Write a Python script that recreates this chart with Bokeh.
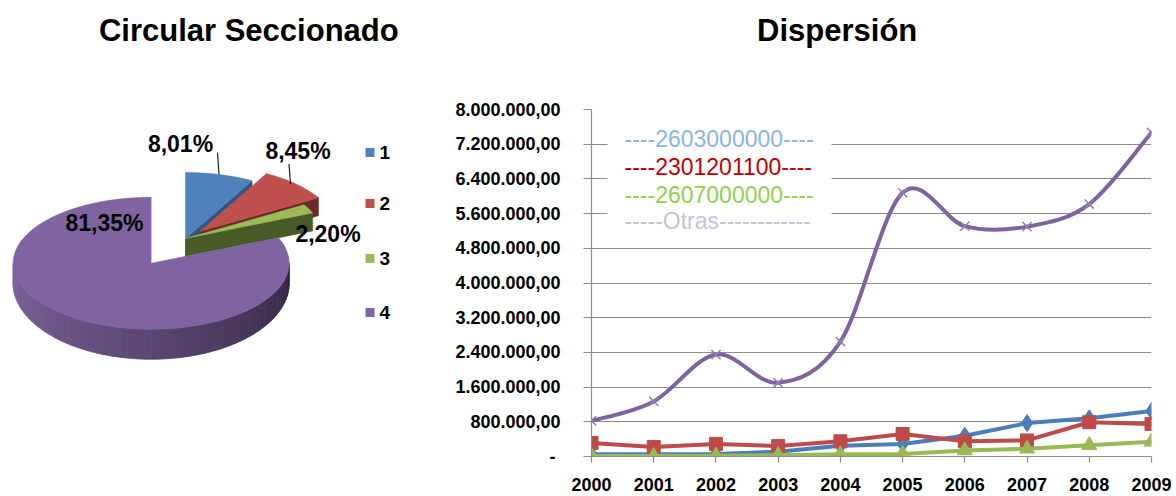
import numpy as np
from bokeh.plotting import figure
from bokeh.models import Range1d, FixedTicker
from bokeh.layouts import column, row
from bokeh.core.properties import value
from bokeh.embed import file_html
from bokeh.resources import INLINE

FONT = value("Liberation Sans")

# ---------------- data ----------------
pie_categories = ["1", "2", "3", "4"]
pie_percent = [8.01, 8.45, 2.20, 81.35]
pie_percent_text = ["8,01%", "8,45%", "2,20%", "81,35%"]
pie_colors = ["#4F81BD", "#C0504D", "#9BBB59", "#8064A2"]

years = [2000, 2001, 2002, 2003, 2004, 2005, 2006, 2007, 2008, 2009]
s_2603000000 = [50000, 50000, 60000, 110000, 250000, 290000, 480000, 770000, 880000, 1050000]
s_2301201100 = [310000, 220000, 290000, 240000, 350000, 520000, 350000, 370000, 790000, 750000]
s_2607000000 = [10000, 10000, 20000, 30000, 50000, 60000, 140000, 180000, 260000, 340000]
s_otras = [820000, 1270000, 2350000, 1700000, 2650000, 6080000, 5310000, 5300000, 5820000, 7470000]
series_names = ["----2603000000----", "----2301201100----", "----2607000000----", "-----Otras------------"]
series_name_colors = ["#8DB4E2", "#C00000", "#92D050", "#CCC0DA"]

y_ticks = [0, 800000, 1600000, 2400000, 3200000, 4000000, 4800000, 5600000, 6400000, 7200000, 8000000]
y_tick_labels = ["-\u00a0", "800.000,00", "1.600.000,00", "2.400.000,00", "3.200.000,00", "4.000.000,00",
                 "4.800.000,00", "5.600.000,00", "6.400.000,00", "7.200.000,00", "8.000.000,00"]
titles = ["Circular Seccionado", "Dispersión"]

# ---------------- titles ----------------
tf = figure(width=1176, height=60, x_range=Range1d(0, 1176), y_range=Range1d(60, 0),
            toolbar_location=None, output_backend="svg", min_border=0,
            x_axis_location=None, y_axis_location=None)
tf.grid.visible = False
tf.outline_line_color = None
tf.text(x=[248.3, 836.7], y=[29.5, 29.5], text=titles, text_align="center",
        text_baseline="middle", text_font=FONT, text_font_style="bold",
        text_font_size="31px", text_color="black")

# ---------------- pie (3D) ----------------
# frame shares its top/bottom with the line chart frame (page y 109..456)
pf = figure(width=420, height=436, x_range=Range1d(0, 420), y_range=Range1d(456, 109),
            toolbar_location=None, output_backend="svg",
            min_border_left=0, min_border_right=0, min_border_top=49, min_border_bottom=40,
            x_axis_location=None, y_axis_location=None)
pf.grid.visible = False
pf.outline_line_color = None

RX, RY = 138.0, 66.0
CX, CY = 185.0, 238.0
D_BACK = 18.0
explode = [0.0, 0.15, 0.0, 0.45]
fr = np.array(pie_percent) / np.sum(pie_percent)
ends = 90.0 - np.cumsum(fr) * 360.0
starts = np.concatenate([[90.0], ends[:-1]])
cents = []
for s, e, k in zip(starts, ends, explode):
    mid = np.radians((s + e) / 2)
    cents.append((CX + k * RX * np.cos(mid), CY - k * RY * np.sin(mid)))


def ell(c, deg):
    t = np.radians(deg)
    return c[0] + RX * np.cos(t), c[1] - RY * np.sin(t)


def top_poly(i):
    c = cents[i]
    a = np.linspace(starts[i], ends[i], max(8, int(abs(ends[i] - starts[i]) * 2)))
    xs, ys = ell(c, a)
    return [c[0]] + list(xs), [c[1]] + list(ys)


def face_poly(i, deg, depth):
    c = cents[i]
    ex, ey = ell(c, deg)
    return [c[0], ex, ex, c[0]], [c[1], ey, ey + depth, c[1] + depth]


# back faces
fx, fy = face_poly(0, ends[0], D_BACK)
pf.patch(fx, fy, fill_color="#34557E", line_color="#34557E", line_width=0.5)
fx, fy = face_poly(1, ends[1], D_BACK)
pf.patch(fx, fy, fill_color="#6A2A28", line_color="#6A2A28", line_width=0.5)
for i in (0, 1):
    tx, ty = top_poly(i)
    pf.patch(tx, ty, fill_color=pie_colors[i], line_color=pie_colors[i], line_width=0.5)
fx, fy = face_poly(2, ends[2], D_BACK)
pf.patch(fx, fy, fill_color="#485B26", line_color="#485B26", line_width=0.5)
tx, ty = top_poly(2)
pf.patch(tx, ty, fill_color=pie_colors[2], line_color=pie_colors[2], line_width=0.5)

# purple wall (front arc), shaded
c4 = cents[3]
N = 72
ang = np.linspace(-180.0, 0.0, N + 1)
left_c = np.array([124, 99, 154])
right_c = np.array([50, 37, 64])
wxs, wys, wcols = [], [], []
for j in range(N):
    a0, a1 = ang[j], ang[j + 1]
    x0, y0 = ell(c4, a0)
    x1, y1 = ell(c4, a1)
    d0 = 20 + 10 * max(0.0, -np.sin(np.radians(a0)))
    d1 = 20 + 10 * max(0.0, -np.sin(np.radians(a1)))
    t = ((a0 + a1) / 2 + 180.0) / 180.0
    col = left_c + (right_c - left_c) * (t ** 1.1)
    hexc = "#%02x%02x%02x" % tuple(int(round(v)) for v in col)
    wxs.append([x0, x1, x1, x0])
    wys.append([y0, y1, y1 + d1, y0 + d0])
    wcols.append(hexc)
pf.patches(wxs, wys, fill_color=wcols, line_color=wcols, line_width=0.8)
tx, ty = top_poly(3)
pf.patch(tx, ty, fill_color=pie_colors[3], line_color=pie_colors[3], line_width=0.5)

# leader lines and labels
pf.segment(x0=[217.0, 288.5], y0=[152.0, 163.5], x1=[218.5, 290.0], y1=[174.0, 183.5],
           line_color="#222222", line_width=1.2)
pf.text(x=[180, 297.5, 327.5, 104], y=[143, 150, 233.5, 222.5], text=pie_percent_text,
        text_align="center", text_baseline="middle", text_font=FONT, text_font_style="bold",
        text_font_size="23px", text_color="black")

# pie legend
leg_y = [152, 203, 258, 312]
pf.rect(x=[369.5] * 4, y=leg_y, width=9, height=9, fill_color=pie_colors, line_color=None)
pf.text(x=[379] * 4, y=leg_y, text=pie_categories, text_align="left", text_baseline="middle",
        text_font=FONT, text_font_style="bold", text_font_size="19px", text_color="black")

# ---------------- line chart ----------------
lf = figure(frame_width=560, frame_height=347, min_border_left=171, min_border_right=25,
            min_border_top=49, min_border_bottom=40,
            x_range=Range1d(2000, 2009), y_range=Range1d(0, 8000000),
            toolbar_location=None, output_backend="svg")
lf.outline_line_color = None
lf.xgrid.visible = False
lf.ygrid.ticker = FixedTicker(ticks=y_ticks)
lf.ygrid.grid_line_color = "#8C8C8C"
lf.ygrid.grid_line_width = 1.2

lf.yaxis.ticker = FixedTicker(ticks=y_ticks)
lf.yaxis.major_label_overrides = {t: l for t, l in zip(y_ticks, y_tick_labels)}
lf.yaxis.minor_tick_line_color = None
lf.yaxis.major_tick_out = 8
lf.yaxis.major_tick_in = 0
lf.yaxis.major_label_standoff = 23

lf.xaxis.ticker = FixedTicker(ticks=years)
lf.xaxis.minor_tick_line_color = None
lf.xaxis.major_tick_out = 6
lf.xaxis.major_tick_in = 0
lf.xaxis.major_label_standoff = 15
lf.xaxis.major_label_text_line_height = 1.0

for ax in (lf.xaxis[0], lf.yaxis[0]):
    ax.axis_line_color = "#8C8C8C"
    ax.axis_line_width = 1.2
    ax.major_tick_line_color = "#8C8C8C"
    ax.major_tick_line_width = 1.2
    ax.major_label_text_font = "Liberation Sans"
    ax.major_label_text_font_style = "bold"
    ax.major_label_text_font_size = "18px"
    ax.major_label_text_color = "black"


def px2x(px):
    return 2000 + (px - 591.0) * 9.0 / 560.0


def py2y(py):
    return (456.0 - py) * 8000000.0 / 347.0


# legend background + texts
lf.quad(left=[px2x(607)], right=[px2x(831)], top=[py2y(118)], bottom=[py2y(232)],
        fill_color="white", line_color=None)
lf.text(x=[px2x(624)] * 4, y=[py2y(v) for v in (138, 166, 194, 220)], text=series_names,
        text_color=series_name_colors, text_align="left", text_baseline="middle",
        text_font=FONT, text_font_size="23px")

# smooth "Otras" line (Catmull-Rom through the data points)
ox = np.array(years, dtype=float)
oy = np.array(s_otras, dtype=float)
Ex = np.concatenate([[ox[0]], ox, [ox[-1]]])
Ey = np.concatenate([[oy[0]], oy, [oy[-1]]])
cx0 = Ex[1:-2] + (Ex[2:-1] - Ex[:-3]) / 6.0
cy0 = Ey[1:-2] + (Ey[2:-1] - Ey[:-3]) / 6.0
cx1 = Ex[2:-1] - (Ex[3:] - Ex[1:-2]) / 6.0
cy1 = Ey[2:-1] - (Ey[3:] - Ey[1:-2]) / 6.0
lf.bezier(x0=ox[:-1], y0=oy[:-1], x1=ox[1:], y1=oy[1:], cx0=cx0, cy0=cy0, cx1=cx1, cy1=cy1,
          line_color="#7E62A1", line_width=4, line_cap="round")
lf.scatter(years, s_otras, marker="x", size=13, line_color="#9580B5", line_width=1.5)

lf.line(years, s_2603000000, line_color="#4A7EBB", line_width=4)
lf.scatter(years, s_2603000000, marker="diamond", size=17, fill_color="#4A7EBB", line_color="#4A7EBB")
lf.line(years, s_2301201100, line_color="#BE4B48", line_width=4)
lf.scatter(years, s_2301201100, marker="square", size=13, fill_color="#BE4B48", line_color="#BE4B48")
lf.line(years, s_2607000000, line_color="#98B954", line_width=4)
lf.scatter(years, s_2607000000, marker="triangle", size=15, fill_color="#98B954", line_color="#98B954")

layout = column(tf, row(pf, lf))
open("out.html", "w").write(file_html(layout, INLINE))
